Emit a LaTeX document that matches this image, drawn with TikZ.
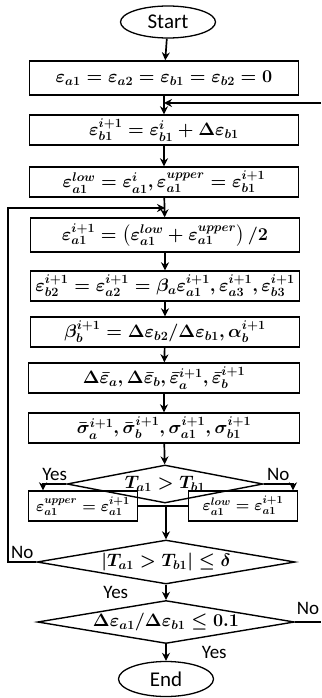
\RequirePackage{fix-cm}
\documentclass[tikz,border=0pt]{standalone}
\usepackage{amsmath,amssymb}
\usepackage{fontspec}
\setsansfont{Carlito}
\usetikzlibrary{arrows.meta, positioning, shapes.geometric}
\tikzset{
  >={Stealth[length=8pt,width=8pt]},
  link/.style={line width=1.7pt},
  arr/.style={link, ->},
  eq/.style={font=\boldmath\fontsize{18}{20}\selectfont},
  proc/.style={
    draw, line width=1.4pt, inner sep=0pt, eq,
    minimum width=#1, minimum height=30pt
  },
  proc/.default=269pt,
  cond/.style={
    draw, diamond, line width=1.4pt, inner sep=0pt
  },
  term/.style={
    draw, ellipse, line width=1.3pt, inner sep=0pt,
    minimum width=95pt, minimum height=32pt,
    font=\sffamily\fontsize{21}{23}\selectfont
  },
  lab/.style={font=\sffamily\fontsize{19}{21}\selectfont, inner sep=1pt}
}

\begin{document}
\begin{tikzpicture}[x=1pt,y=-1pt]
  \useasboundingbox (0,0) rectangle (321,698);
  \node[term] (start) at (168,22) {Start};
  \node[proc,minimum height=34pt] (init) at (164,78) {$\varepsilon_{a1}=\varepsilon_{a2}=\varepsilon_{b1}=\varepsilon_{b2}=0$};
  \node[proc] (inc) at (164,130) {$\varepsilon_{b1}^{i+1}=\varepsilon_{b1}^{i}+\Delta\varepsilon_{b1}$};
  \node[proc] (bnd) at (164,182) {$\varepsilon_{a1}^{low}=\varepsilon_{a1}^{i},\varepsilon_{a1}^{upper}=\varepsilon_{b1}^{i+1}$};
  \node[proc,minimum height=34pt] (mid) at (165,235) {$\varepsilon_{a1}^{i+1}=\left(\varepsilon_{a1}^{low}+\varepsilon_{a1}^{upper}\right)/2$};
  \node[proc] (strn) at (165,286) {$\varepsilon_{b2}^{i+1}=\varepsilon_{a2}^{i+1}=\beta_{a}\varepsilon_{a1}^{i+1},\varepsilon_{a3}^{i+1},\varepsilon_{b3}^{i+1}$};
  \node[proc] (coef) at (165,332) {$\beta_{b}^{i+1}=\Delta\varepsilon_{b2}/\Delta\varepsilon_{b1},\alpha_{b}^{i+1}$};
  \node[proc=271pt] (avg) at (164,378) {$\Delta\bar{\varepsilon}_{a},\Delta\bar{\varepsilon}_{b},\bar{\varepsilon}_{a}^{i+1},\bar{\varepsilon}_{b}^{i+1}$};
  \node[proc=271pt] (strs) at (164,428) {$\bar{\sigma}_{a}^{i+1},\bar{\sigma}_{b}^{i+1},\sigma_{a1}^{i+1},\sigma_{b1}^{i+1}$};
  \node[cond,minimum width=196pt,minimum height=38pt,
        label={[eq]center:$T_{a1}>T_{b1}$}] (cmp) at (165,484) {};
  \node[proc=109pt,font=\boldmath\fontsize{15.5}{17}\selectfont] (up) at (83,506) {$\varepsilon_{a1}^{upper}=\varepsilon_{a1}^{i+1}$};
  \node[proc=109pt,font=\boldmath\fontsize{15.5}{17}\selectfont] (lo) at (243,506) {$\varepsilon_{a1}^{low}=\varepsilon_{a1}^{i+1}$};
  \node[cond,minimum width=258pt,minimum height=44pt,
        label={[eq]center:$\left|T_{a1}>T_{b1}\right|\le\delta$}] (tol) at (166,562) {};
  \node[cond,minimum width=257pt,minimum height=43pt,
        label={[eq]center:$\Delta\varepsilon_{a1}/\Delta\varepsilon_{b1}\le0.1$}] (rat) at (166,622) {};
  \node[term,minimum height=35pt] (end) at (166,679) {End};

  \coordinate (fb) at (321,103);
  \coordinate (loop) at (8,208);
  \coordinate (nxt) at (321,622);

  \draw[arr] (start) -- (init);
  \draw[arr] (init) -- (inc);
  \draw[arr] (fb) -- (init.south |- fb);
  \draw[arr] (inc) -- (bnd);
  \draw[arr] (bnd) -- (mid);
  \draw[arr] (mid) -- (strn);
  \draw[arr] (strn) -- (coef);
  \draw[arr] (coef) -- (avg);
  \draw[arr] (avg) -- (strs);
  \draw[arr] (strs) -- (cmp);
  \draw[arr] (cmp.west) -| node[lab,pos=0.25,above=2pt] {Yes} (up.north -| 43,0);
  \draw[arr] (cmp.east) -| node[lab,pos=0.25,above=2pt] {No} (lo.north -| 293,0);
  \draw[link] (up.east) -- (lo.west);
  \draw[arr] (up.east -| tol.north) -- (tol.north);
  \draw[arr] (tol.west) -- node[lab,above=2pt] {No} (tol.west -| loop) -- (loop) -- (mid.north |- loop);
  \draw[arr] (tol) -- node[lab,left=36pt] {Yes} (rat);
  \draw[link] (rat.east) -- node[lab,above=6pt] {No} (nxt);
  \draw[arr] (rat) -- node[lab,right=34pt] {Yes} (end);
\end{tikzpicture}
\end{document}
